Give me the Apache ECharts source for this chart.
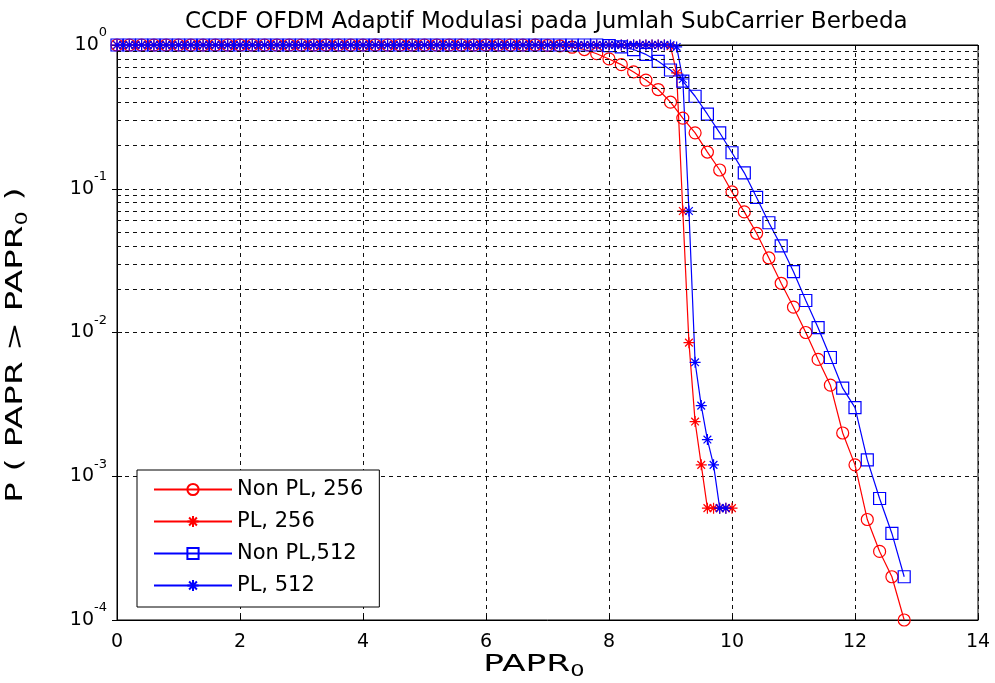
<!DOCTYPE html>
<html>
<head>
<meta charset="utf-8">
<title>CCDF OFDM</title>
<script src="https://cdn.jsdelivr.net/npm/echarts@6/dist/echarts.min.js"></script>
<style>
    html, body { margin: 0; padding: 0; background: #fff; }
    #chart { width: 995px; height: 683px; }
</style>
</head>
<body>
<div id="chart"></div>
<script>
// PAPR0 grid for the "Non PL" curves (step 0.2)
const xCoarse = [
    0, 0.2, 0.4, 0.6, 0.8, 1, 1.2, 1.4, 1.6, 1.8,
    2, 2.2, 2.4, 2.6, 2.8, 3, 3.2, 3.4, 3.6, 3.8,
    4, 4.2, 4.4, 4.6, 4.8, 5, 5.2, 5.4, 5.6, 5.8,
    6, 6.2, 6.4, 6.6, 6.8, 7, 7.2, 7.4, 7.6, 7.8,
    8, 8.2, 8.4, 8.6, 8.8, 9, 9.2, 9.4, 9.6, 9.8,
    10, 10.2, 10.4, 10.6, 10.8, 11, 11.2, 11.4, 11.6, 11.8,
    12, 12.2, 12.4, 12.6, 12.8
];

// PAPR0 grid for the "PL" curves (step 0.1)
const xFine = [
    0, 0.1, 0.2, 0.3, 0.4, 0.5, 0.6, 0.7, 0.8, 0.9,
    1, 1.1, 1.2, 1.3, 1.4, 1.5, 1.6, 1.7, 1.8, 1.9,
    2, 2.1, 2.2, 2.3, 2.4, 2.5, 2.6, 2.7, 2.8, 2.9,
    3, 3.1, 3.2, 3.3, 3.4, 3.5, 3.6, 3.7, 3.8, 3.9,
    4, 4.1, 4.2, 4.3, 4.4, 4.5, 4.6, 4.7, 4.8, 4.9,
    5, 5.1, 5.2, 5.3, 5.4, 5.5, 5.6, 5.7, 5.8, 5.9,
    6, 6.1, 6.2, 6.3, 6.4, 6.5, 6.6, 6.7, 6.8, 6.9,
    7, 7.1, 7.2, 7.3, 7.4, 7.5, 7.6, 7.7, 7.8, 7.9,
    8, 8.1, 8.2, 8.3, 8.4, 8.5, 8.6, 8.7, 8.8, 8.9,
    9, 9.1, 9.2, 9.3, 9.4, 9.5, 9.6, 9.7, 9.8, 9.9,
    10
];

const nonPL256 = [
    1, 1, 1, 1, 1, 1, 1, 1, 1, 1,
    1, 1, 1, 1, 1, 1, 1, 1, 1, 1,
    1, 1, 1, 1, 1, 1, 1, 1, 1, 1,
    1, 1, 1, 1, 1, 0.995, 0.985, 0.965, 0.93, 0.87,
    0.8, 0.73, 0.65, 0.57, 0.49, 0.4, 0.31, 0.245, 0.18, 0.135,
    0.095, 0.069, 0.049, 0.033, 0.022, 0.015, 0.01, 0.0065, 0.0043, 0.002,
    0.0012, 0.0005, 0.0003, 0.0002, 0.0001
];

const nonPL512 = [
    1, 1, 1, 1, 1, 1, 1, 1, 1, 1,
    1, 1, 1, 1, 1, 1, 1, 1, 1, 1,
    1, 1, 1, 1, 1, 1, 1, 1, 1, 1,
    1, 1, 1, 1, 1, 1, 1, 1, 1, 1,
    0.99, 0.97, 0.93, 0.86, 0.77, 0.67, 0.56, 0.44, 0.33, 0.245,
    0.178, 0.129, 0.087, 0.058, 0.04, 0.0265, 0.0167, 0.0108, 0.0067, 0.0041,
    0.003, 0.0013, 0.0007, 0.0004, 0.0002
];

const pl256 = [
    1, 1, 1, 1, 1, 1, 1, 1, 1, 1,
    1, 1, 1, 1, 1, 1, 1, 1, 1, 1,
    1, 1, 1, 1, 1, 1, 1, 1, 1, 1,
    1, 1, 1, 1, 1, 1, 1, 1, 1, 1,
    1, 1, 1, 1, 1, 1, 1, 1, 1, 1,
    1, 1, 1, 1, 1, 1, 1, 1, 1, 1,
    1, 1, 1, 1, 1, 1, 1, 1, 1, 1,
    1, 1, 1, 1, 1, 1, 1, 1, 1, 1,
    1, 1, 1, 1, 1, 1, 1, 1, 1, 1,
    0.98, 0.64, 0.07, 0.0085, 0.0024, 0.0012, 0.0006, 0.0006, 0.0006, 0.0006,
    0.0006
];

const pl512 = [
    1, 1, 1, 1, 1, 1, 1, 1, 1, 1,
    1, 1, 1, 1, 1, 1, 1, 1, 1, 1,
    1, 1, 1, 1, 1, 1, 1, 1, 1, 1,
    1, 1, 1, 1, 1, 1, 1, 1, 1, 1,
    1, 1, 1, 1, 1, 1, 1, 1, 1, 1,
    1, 1, 1, 1, 1, 1, 1, 1, 1, 1,
    1, 1, 1, 1, 1, 1, 1, 1, 1, 1,
    1, 1, 1, 1, 1, 1, 1, 1, 1, 1,
    1, 1, 1, 1, 1, 1, 1, 1, 1, 1,
    1, 0.97, 0.58, 0.07, 0.0062, 0.0031, 0.0018, 0.0012, 0.0006, 0.0006
];

const xTicks = [0, 2, 4, 6, 8, 10, 12, 14];
const yDecades = [-4, -3, -2, -1, 0];
const minorMantissas = [2, 3, 4, 5, 6, 7, 8, 9];

const FONT = 'DejaVu Sans';
const RED = '#ff0000';
const BLUE = '#0000ff';
const STAR = 'path://M0,-10L0,10M-10,0L10,0M-7,-7L7,7M-7,7L7,-7';

// zip x/y arrays into [x, y] pairs
const zip = (xs, ys) => ys.map((y, i) => [xs[i], y]);

// dashed minor grid lines at 2..9 x 10^k (MATLAB log grid)
const minorLines = [];
yDecades.slice(0, -1).forEach(e => {
    minorMantissas.forEach(m => minorLines.push({ yAxis: Number((m * Math.pow(10, e)).toPrecision(2)) }));
});

const gridDash = { color: '#111', width: 1, type: [4, 4] };

// text with a subscript "0" (axis titles)
const subRich = {
    a: { fontFamily: FONT, fontSize: 23, fill: '#000' },
    s: { fontFamily: FONT, fontSize: 15, fill: '#000', padding: [14, 0, 0, 0] }
};

const makeSeries = (name, data, color, symbol, size) => ({
    name, type: 'line', data, clip: false, z: 3,
    symbol, symbolSize: size, showSymbol: true,
    lineStyle: { color, width: 1.2 },
    itemStyle: { color: 'rgba(0,0,0,0)', borderColor: color, borderWidth: 1.2 },
    emphasis: { disabled: true }
});

const chart = echarts.init(document.getElementById('chart'));
chart.setOption({
    animation: false,
    backgroundColor: '#fff',
    title: {
        text: 'CCDF OFDM Adaptif Modulasi pada Jumlah SubCarrier Berbeda',
        left: 180, top: 6,
        textStyle: { fontFamily: FONT, fontSize: 23, fontWeight: 'normal', color: '#000' }
    },
    grid: { left: 117, right: 17, top: 45, bottom: 63, show: true, borderColor: '#000', borderWidth: 1 },
    legend: {
        orient: 'vertical', left: 137, top: 470,
        itemWidth: 78, itemHeight: 14, itemGap: 11,
        padding: [9, 16, 11, 16],
        borderColor: '#000', borderWidth: 1, backgroundColor: '#fff',
        textStyle: { fontFamily: FONT, fontSize: 21, lineHeight: 20, color: '#000' },
        data: ['Non PL, 256', 'PL, 256', 'Non PL,512', 'PL, 512']
    },
    // axis titles: the original font is much wider than DejaVu, so stretch them
    graphic: [{
        type: 'text', x: 534, y: 665, scaleX: 1.5, silent: true,
        style: { text: '{a|PAPR}{s|0}', rich: subRich, align: 'center', verticalAlign: 'middle', fill: '#000' }
    }, {
        type: 'text', x: 16, y: 345, rotation: Math.PI / 2, scaleX: 1.48, silent: true,
        style: { text: '{a|P ( PAPR > PAPR}{s|0}{a| )}', rich: subRich, align: 'center', verticalAlign: 'middle', fill: '#000' }
    }],
    xAxis: [{
        type: 'value', min: xTicks[0], max: xTicks[xTicks.length - 1], interval: 2,
        axisLine: { show: true, lineStyle: { color: '#000', width: 1 } },
        axisTick: { show: true, inside: true, length: 5, lineStyle: { color: '#000' } },
        axisLabel: { fontFamily: FONT, fontSize: 19, color: '#000', margin: 13 },
        splitLine: { show: true, lineStyle: gridDash }
    }, {
        type: 'value', position: 'top', min: xTicks[0], max: xTicks[xTicks.length - 1], interval: 2,
        axisLine: { show: true, lineStyle: { color: '#000' } },
        axisTick: { show: true, inside: true, length: 5, lineStyle: { color: '#000' } },
        axisLabel: { show: false }, splitLine: { show: false }
    }],
    yAxis: [{
        type: 'log', logBase: 10, min: Math.pow(10, yDecades[0]), max: Math.pow(10, yDecades[yDecades.length - 1]),
        axisLine: { show: true, lineStyle: { color: '#000', width: 1 } },
        axisTick: { show: true, inside: true, length: 5, lineStyle: { color: '#000' } },
        axisLabel: {
            margin: 10,
            formatter: v => '{b|10}{s|' + Math.round(Math.log10(v)) + '}',
            rich: {
                b: { fontFamily: FONT, fontSize: 19, color: '#000' },
                s: { fontFamily: FONT, fontSize: 13, color: '#000', padding: [0, 0, 24, 0] }
            }
        },
        splitLine: { show: true, lineStyle: gridDash }
    }, {
        type: 'log', logBase: 10, position: 'right',
        min: Math.pow(10, yDecades[0]), max: Math.pow(10, yDecades[yDecades.length - 1]),
        axisLine: { show: true, lineStyle: { color: '#000' } },
        axisTick: { show: true, inside: true, length: 5, lineStyle: { color: '#000' } },
        axisLabel: { show: false }, splitLine: { show: false }
    }],
    series: [
        {
            name: 'grid', type: 'line', data: [], z: 1, silent: true,
            markLine: { symbol: ['none', 'none'], silent: true, label: { show: false }, lineStyle: gridDash, data: minorLines }
        },
        makeSeries('Non PL, 256', zip(xCoarse, nonPL256), RED, 'circle', 12),
        makeSeries('PL, 256', zip(xFine, pl256), RED, STAR, 11),
        makeSeries('Non PL,512', zip(xCoarse, nonPL512), BLUE, 'rect', 12),
        makeSeries('PL, 512', zip(xFine, pl512), BLUE, STAR, 11)
    ]
});
</script>
</body>
</html>
